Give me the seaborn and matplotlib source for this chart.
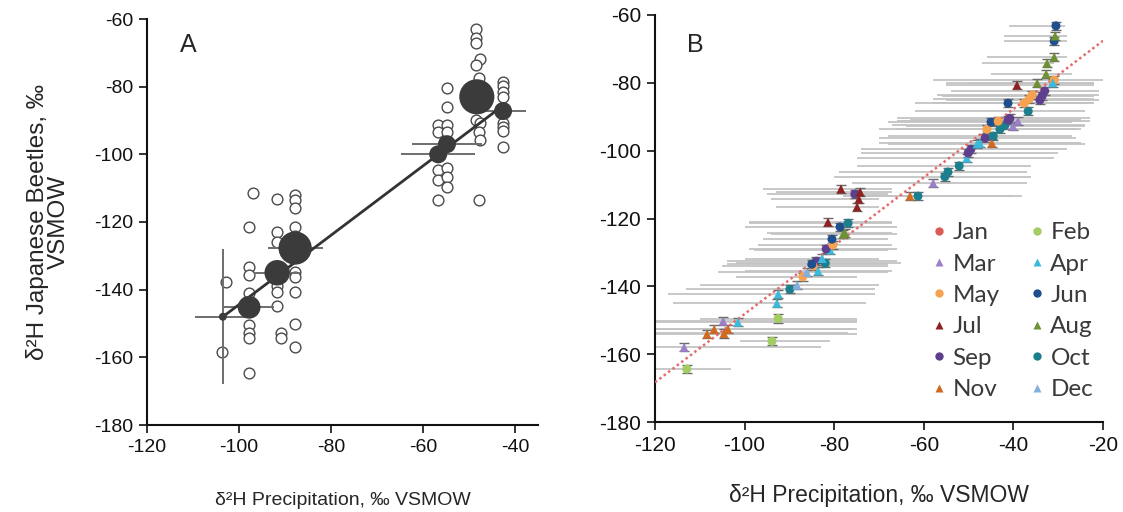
import matplotlib
matplotlib.use("Agg")
import matplotlib.pyplot as plt
from matplotlib.lines import Line2D
import seaborn as sns
import numpy as np
import pandas as pd

# ---------------- Panel A data ----------------
mean_x = [-103.5, -97.8, -91.7, -87.8, -56.7, -54.8, -48.3, -42.6]
mean_y = [-148.0, -145.2, -135.0, -127.7, -100.0, -97.0, -83.0, -87.2]
mean_xerr = [6.0, 5.5, 5.0, 6.0, 8.0, 7.6, 3.0, 5.0]
mean_yerr = [20.0, 3.0, 3.0, 4.0, 2.0, 2.0, 3.0, 2.0]
mean_n = [1, 8, 10, 17, 5, 5, 19, 5]

ind_x = [-102.9, -103.8,
         -97.0, -97.8, -97.8, -97.8, -97.8, -97.8, -97.8, -97.8, -97.8,
         -91.8, -91.8, -91.8, -91.8, -91.8, -91.8, -90.9, -90.9,
         -87.8, -87.8, -87.8, -87.8, -87.8, -87.8, -87.8, -87.8, -87.8, -87.8,
         -56.7, -56.7, -56.7, -56.7, -56.7, -56.7,
         -54.8, -54.8, -54.8, -54.8, -54.8, -54.8, -54.8,
         -48.5, -48.5, -48.5, -47.6, -48.5, -47.8, -48.5, -47.6, -47.8, -47.6, -47.8,
         -42.6, -42.6, -42.6, -42.6, -42.6, -42.6, -42.6, -42.6]
ind_y = [-137.6, -158.5,
         -111.4, -121.5, -133.2, -135.7, -141.0, -150.5, -152.7, -154.3, -164.7,
         -113.3, -122.9, -125.8, -139.0, -140.6, -144.8, -152.8, -154.3,
         -112.0, -113.6, -116.0, -121.6, -124.0, -134.7, -136.4, -140.6, -150.0, -156.9,
         -91.3, -93.5, -100.0, -104.6, -107.6, -113.4,
         -80.5, -85.9, -91.3, -93.3, -104.1, -106.6, -109.6,
         -63.0, -65.7, -67.2, -71.9, -73.6, -77.5, -89.9, -90.8, -93.3, -95.8, -113.5,
         -78.5, -79.8, -81.5, -83.1, -90.8, -92.0, -93.0, -97.7]

fitA_x = [-103.5, -43.0]
fitA_y = [-148.0, -86.0]

# ---------------- Panel B data ----------------
months = ["Jan", "Feb", "Mar", "Apr", "May", "Jun",
          "Jul", "Aug", "Sep", "Oct", "Nov", "Dec"]
b_month = ["Feb", "Mar", "Feb", "Feb", "Mar", "Apr", "Nov", "Nov", "Nov", "Nov",
           "Apr", "Apr", "Oct", "Dec", "May", "Dec", "Apr", "Oct", "Sep", "May",
           "Jun", "Apr", "Apr", "Sep", "May", "Jun", "Aug", "Aug", "Jun", "Oct",
           "Jul", "Jul", "Sep", "Jul", "Jul", "Jul", "Nov", "Oct", "Mar", "Oct",
           "Oct", "Oct", "Apr", "Sep", "Sep", "Apr", "Apr", "Nov", "Sep", "Oct",
           "May", "Oct", "Oct", "Mar", "Mar", "Sep", "Sep", "Jun", "May", "Oct",
           "Jun", "May", "May", "May", "Sep", "Sep", "Sep", "Jul", "Aug", "May",
           "Apr", "Aug", "Aug", "Aug", "Jun", "Aug", "Jun"]
b_x = [-112.9, -113.5, -93.9, -92.5, -104.8, -101.5, -108.4, -106.8, -104.6, -103.7,
       -92.8, -92.5, -89.9, -88.3, -87.0, -86.1, -83.6, -82.0, -84.0, -84.7,
       -85.0, -82.7, -80.9, -81.8, -80.3, -80.5, -77.6, -78.0, -78.7, -76.9,
       -81.4, -78.5, -75.4, -74.2, -74.5, -74.9, -63.1, -61.3, -57.9, -55.3,
       -54.6, -52.1, -50.4, -50.1, -49.5, -48.1, -47.5, -44.8, -46.3, -44.5,
       -45.9, -43.0, -41.9, -40.1, -39.0, -40.8, -41.2, -45.0, -43.4, -36.7,
       -41.2, -37.6, -36.5, -35.8, -34.1, -33.6, -33.0, -39.2, -34.7, -30.9,
       -31.2, -32.7, -32.5, -30.9, -30.9, -30.7, -30.5]
b_y = [-164.4, -158.0, -156.2, -149.5, -150.3, -150.6, -154.1, -152.7, -153.9, -152.7,
       -145.0, -142.3, -140.9, -139.7, -137.2, -135.9, -135.5, -133.2, -132.6, -134.0,
       -133.5, -131.8, -129.3, -129.0, -127.8, -126.1, -124.3, -124.6, -122.5, -121.4,
       -121.1, -111.3, -112.8, -112.2, -114.3, -116.6, -113.4, -113.4, -109.6, -107.7,
       -106.3, -104.5, -102.2, -100.7, -99.6, -98.0, -97.8, -97.8, -96.3, -95.7,
       -93.7, -93.7, -92.5, -92.8, -91.3, -90.5, -91.0, -91.6, -91.3, -88.4,
       -86.0, -86.0, -84.8, -83.6, -85.1, -83.9, -82.4, -80.7, -80.1, -79.2,
       -80.0, -77.4, -74.2, -72.4, -67.7, -66.2, -63.2]
b_xmin = [-123, -143, -101, -110, -135, -130, -140, -140, -135, -135,
          -116, -117, -113, -110, -102, -106, -100, -102, -104, -105,
          -104, -100, -98, -99, -97, -96, -95, -94, -100, -99,
          -99, -96, -95, -93, -94, -93, -76, -78, -76, -80,
          -79, -75, -75, -74, -74, -68, -70, -68, -70, -68,
          -70, -66, -67, -64, -65, -66, -63, -68, -66, -62,
          -62, -58, -58, -57, -55, -56, -54, -55, -55, -58,
          -50, -45, -47, -46, -42, -42, -41]
b_xmax = [-103, -83, -81, -75, -75, -75, -75, -76, -77, -75,
          -73, -71, -71, -70, -75, -68, -67, -65, -66, -68,
          -68, -70, -68, -66, -67, -68, -67, -66, -66, -67,
          -67, -67, -68, -67, -70, -70, -38, -40, -37, -36,
          -37, -36, -31, -30, -28, -24, -25, -25, -26, -27,
          -25, -26, -24, -24, -23, -23, -25, -27, -26, -24,
          -22, -22, -22, -21, -21, -22, -21, -22, -22, -20,
          -22, -27, -31, -28, -28, -28, -28.5]
b_yerr = [1.2] * len(b_x)

fitB_x = [-120, -20]
fitB_y = [-168.3, -67.6]

month_colors = {"Jan": "#dc5b57", "Feb": "#a3cc62", "Mar": "#9b80c8", "Apr": "#3bbbdc",
                "May": "#f6a24f", "Jun": "#1f4f8d", "Jul": "#8e2222", "Aug": "#6e9133",
                "Sep": "#5d3f8e", "Oct": "#1b7f8e", "Nov": "#d2691e", "Dec": "#80afe0"}
month_markers = {"Jan": "o", "Feb": "o", "Mar": "^", "Apr": "^", "May": "o", "Jun": "o",
                 "Jul": "^", "Aug": "^", "Sep": "o", "Oct": "o", "Nov": "^", "Dec": "^"}

# ---------------- figure ----------------
sns.set_theme(style="white")
plt.rcParams["font.family"] = ["Liberation Sans", "DejaVu Sans"]
plt.rcParams["axes.unicode_minus"] = False

fig = plt.figure(figsize=(11.23, 5.12), dpi=100)
W, H = 1123, 512
axA = fig.add_axes([147 / W, 1 - 425 / H, (538 - 147) / W, (425 - 19) / H])
axB = fig.add_axes([655 / W, 1 - 422 / H, (1103 - 655) / W, (422 - 15) / H])

# ---- Panel A ----
dfi = pd.DataFrame({"x": ind_x, "y": ind_y})
sns.scatterplot(data=dfi, x="x", y="y", ax=axA, s=60, color="white",
                edgecolor="#4a4a4a", linewidth=1.0, zorder=2, legend=False)
axA.errorbar(mean_x, mean_y, xerr=mean_xerr, yerr=mean_yerr, fmt="none",
             ecolor="#6e6e6e", elinewidth=1.4, capsize=0, zorder=2.5)
sns.lineplot(x=fitA_x, y=fitA_y, ax=axA, color="#333333", linewidth=2.0,
             zorder=3, legend=False)
dfm = pd.DataFrame({"x": mean_x, "y": mean_y, "n": mean_n})
sns.scatterplot(data=dfm, x="x", y="y", size="n", sizes=(33, 640), size_norm=(1, 19),
                ax=axA, color="#3b3b3b", edgecolor="none", zorder=4, legend=False)

axA.set_xlim(-120, -35)
axA.set_ylim(-180, -60)
axA.set_xticks([-120, -100, -80, -60, -40])
axA.set_yticks(list(range(-180, -59, 20)))
axA.set_xlabel("δ²H Precipitation, ‰ VSMOW", fontsize=14, labelpad=26)
axA.set_ylabel("δ²H Japanese Beetles, ‰\nVSMOW", fontsize=17.5, labelpad=17,
               linespacing=0.95)
axA.text(0.085, 0.965, "A", transform=axA.transAxes, fontsize=18, va="top")

# ---- Panel B ----
axB.hlines(b_y, b_xmin, b_xmax, colors="#c4c4c4", linewidth=1.3, zorder=1)
axB.errorbar(b_x, b_y, yerr=b_yerr, fmt="none", ecolor="#6a6a6a",
             elinewidth=1.0, capsize=3.5, capthick=1.0, zorder=2)
sns.lineplot(x=fitB_x, y=fitB_y, ax=axB, color="#e36b6b", linewidth=1.8,
             linestyle=(0, (1, 1.2)), zorder=3, legend=False)
dfb = pd.DataFrame({"x": b_x, "y": b_y, "month": b_month})
sns.scatterplot(data=dfb, x="x", y="y", hue="month", style="month",
                hue_order=months, style_order=months,
                palette=month_colors, markers=month_markers,
                s=42, edgecolor="none", ax=axB, zorder=4, legend=False)

axB.set_xlim(-120, -20)
axB.set_ylim(-180, -60)
axB.set_xticks(list(range(-120, -19, 20)))
axB.set_yticks(list(range(-180, -59, 20)))
axB.set_xlabel("δ²H Precipitation, ‰ VSMOW", fontsize=16.5, labelpad=21)
axB.set_ylabel("")
axB.text(0.072, 0.955, "B", transform=axB.transAxes, fontsize=18, va="top")

order = ["Jan", "Mar", "May", "Jul", "Sep", "Nov",
         "Feb", "Apr", "Jun", "Aug", "Oct", "Dec"]
handles = [Line2D([], [], linestyle="none", marker=month_markers[m],
                  markersize=6, markerfacecolor=month_colors[m],
                  markeredgecolor="none", label=m) for m in order]
axB.legend(handles=handles, ncol=2, loc="upper left", bbox_to_anchor=(0.555, 0.545),
           frameon=False, labelspacing=0.43, handletextpad=0.0,
           columnspacing=1.0, handlelength=1.1,
           prop={"family": ["Lato", "DejaVu Sans"], "size": 17.5},
           labelcolor="#3a3a3a")

for ax in (axA, axB):
    sns.despine(ax=ax)
    for sp in ("left", "bottom"):
        ax.spines[sp].set_color("#111111")
        ax.spines[sp].set_linewidth(1.5)
    ax.tick_params(axis="both", which="both", direction="out", length=6,
                   width=1.2, color="#111111", bottom=True, left=True,
                   labelsize=14, labelcolor="#111111", pad=4)
axB.tick_params(labelsize=15)

fig.savefig("out.png", dpi=100)
